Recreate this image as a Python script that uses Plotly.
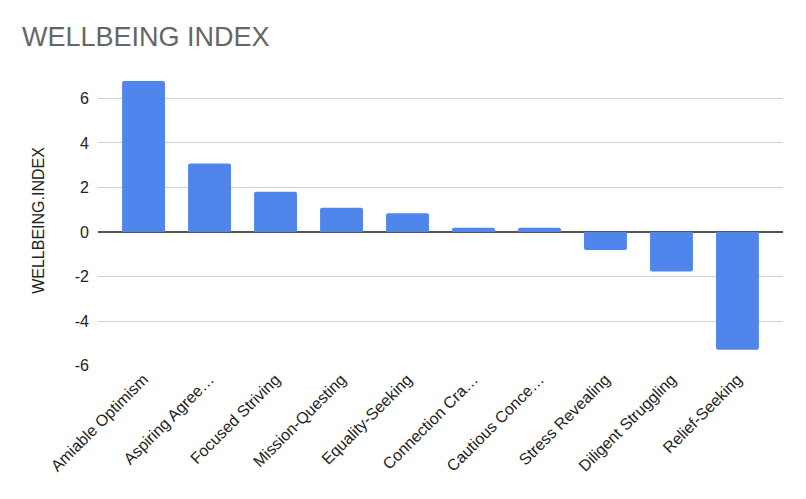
import plotly.graph_objects as go

categories = ["Amiable Optimism", "Aspiring Agree…", "Focused Striving", "Mission-Questing",
              "Equality-Seeking", "Connection Cra…", "Cautious Conce…", "Stress Revealing",
              "Diligent Struggling", "Relief-Seeking"]
values = [6.78, 3.08, 1.81, 1.09, 0.84, 0.19, 0.19, -0.81, -1.78, -5.29]
y_ticks = [-6, -4, -2, 0, 2, 4, 6]

W, H = 798, 491  # page body has an 8px margin

fig = go.Figure(go.Bar(
    x=categories, y=values,
    marker=dict(color="#5086EC", line=dict(width=0), cornerradius=2),
    width=0.65,
))

fig.update_layout(
    width=W, height=H,
    paper_bgcolor="white", plot_bgcolor="white",
    margin=dict(l=90, r=23, t=67, b=133, autoexpand=False),
    font=dict(family="Liberation Sans, Arial, sans-serif", color="#222222", size=16),
    title=dict(text="WELLBEING INDEX", x=14/W, xref="container", xanchor="left",
               y=1 - 29/H, yref="container", yanchor="middle",
               pad=dict(l=0, r=0, t=0, b=0),
               font=dict(size=27, color="#666666")),
    showlegend=False,
)

fig.update_xaxes(
    range=[-0.69, 9.69], tickangle=-45, showgrid=False, showline=False,
    ticks="", tickfont=dict(size=16, color="#222222"), automargin=False,
)
fig.update_yaxes(
    range=[-6.02, 7.05], tickvals=y_ticks, ticktext=[str(v) for v in y_ticks],
    showgrid=True, gridcolor="#D0D0D0", gridwidth=1,
    zeroline=True, zerolinecolor="#555555", zerolinewidth=1.5,
    showline=False, ticks="", ticklabelstandoff=8, automargin=False,
    tickfont=dict(size=16, color="#222222"),
    title=dict(text="WELLBEING.INDEX", font=dict(size=16, color="#222222"), standoff=26),
)

fig.write_html("out.html")
